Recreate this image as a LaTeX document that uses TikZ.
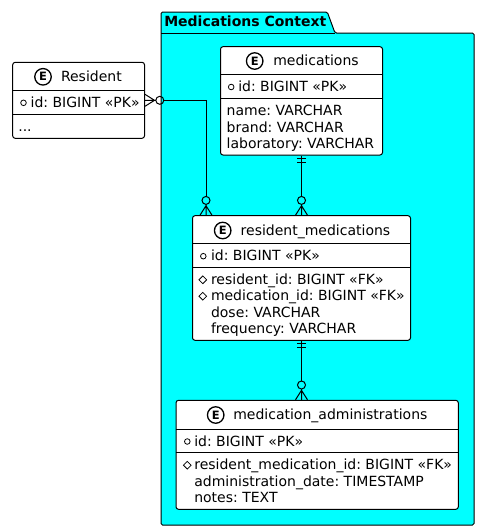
\documentclass[tikz,border=0pt]{standalone}
\usepackage{fontspec}
\setmainfont{DejaVu Sans}
\usetikzlibrary{shapes.geometric}
\definecolor{pkg}{HTML}{00FFFF}
\frenchspacing
\begin{document}
\begin{tikzpicture}[x=1pt,y=-1pt,
  ent/.style={draw=black, fill=white, line width=1pt, rounded corners=2.5pt, inner sep=0pt, rectangle},
  txt/.style={anchor=base west, inner sep=0pt, outer sep=0pt, font=\fontsize{14}{16}\selectfont},
  ecirc/.style={circle, draw=black, fill=white, line width=1.3pt, minimum size=16.5pt, inner sep=0pt, font=\fontsize{11.5}{12}\selectfont\bfseries},
  pkmark/.style={circle, draw=black, line width=0.8pt, minimum size=5.6pt, inner sep=0pt},
  fkmark/.style={diamond, draw=black, line width=0.8pt, minimum size=8pt, inner sep=0pt},
  sep/.style={line width=1pt},
  conn/.style={line width=1pt},
  crowzero/.pic={\draw[line width=1pt] (0,0) -- (10.8,0) (0,6) -- (9.5,0) -- (0,-6);
                 \draw[line width=1pt] (14.8,0) circle[radius=4pt];},
  onlyone/.pic={\draw[line width=1pt] (3,-4.3) -- (3,4.3) (7,-4.3) -- (7,4.3);}
]
\useasboundingbox (0,0) rectangle (480,531);

% package
\draw[fill=pkg, line width=1pt, rounded corners=1.5pt] (161,33) -- (161,12) -- (327.3,12) -- (335,33) -- (474,33) -- (474,525) -- (161,525) -- cycle;
\draw[line width=1pt] (161,33) -- (335,33);
\node[txt, font=\fontsize{14}{16}\selectfont\bfseries] (pkgtitle) at (164.3,26.7) {Medications Context};

% Resident
\node[ent, minimum width=131.8pt, minimum height=76pt] (res) at (78.6,100.3) {};
\draw[sep] (res.west |- 0,90.3) -- (res.east |- 0,90.3);
\draw[sep] (res.west |- 0,114.3) -- (res.east |- 0,114.3);
\node[ecirc] (rese) at (43,76.8) {E};
\node[txt] (rest) at (61,81.6) {Resident};
\node[pkmark] (resm1) at (23.5,102.8) {};
\node[txt] (resa1) at (30.7,107.3) {id: BIGINT «PK»};
\node[txt] (resa2) at (18.3,131.3) {...};

% medications
\node[ent, minimum width=162pt, minimum height=108.3pt] (med) at (301.5,100.85) {};
\draw[sep] (med.west |- 0,74.3) -- (med.east |- 0,74.3);
\draw[sep] (med.west |- 0,98.7) -- (med.east |- 0,98.7);
\node[ecirc] (mede) at (254.7,61) {E};
\node[txt] (medt) at (273.3,65.7) {medications};
\node[pkmark] (medm1) at (231.2,87) {};
\node[txt] (meda1) at (238.3,91.3) {id: BIGINT «PK»};
\node[txt] (meda2) at (226.7,115.7) {name: VARCHAR};
\node[txt] (meda3) at (226.7,132) {brand: VARCHAR};
\node[txt] (meda4) at (226.7,148.3) {laboratory: VARCHAR};

% resident_medications
\node[ent, minimum width=218pt, minimum height=124.6pt] (rm) at (301.5,278) {};
\draw[sep] (rm.west |- 0,243.7) -- (rm.east |- 0,243.7);
\draw[sep] (rm.west |- 0,267.3) -- (rm.east |- 0,267.3);
\node[ecirc] (rme) at (222.7,230.5) {E};
\node[txt] (rmt) at (240.7,235.2) {resident\_medications};
\node[pkmark] (rmm1) at (203.3,256.2) {};
\node[txt] (rma1) at (211,260.7) {id: BIGINT «PK»};
\node[fkmark] (rmm2) at (202.8,279.8) {};
\node[txt] (rma2) at (211,284.3) {resident\_id: BIGINT «FK»};
\node[fkmark] (rmm3) at (202.8,296.2) {};
\node[txt] (rma3) at (211,300.7) {medication\_id: BIGINT «FK»};
\node[txt] (rma4) at (211,317) {dose: VARCHAR};
\node[txt] (rma5) at (211,333.3) {frequency: VARCHAR};

% medication_administrations
\node[ent, minimum width=282.3pt, minimum height=109pt] (ma) at (317.15,454.8) {};
\draw[sep] (ma.west |- 0,429) -- (ma.east |- 0,429);
\draw[sep] (ma.west |- 0,452.7) -- (ma.east |- 0,452.7);
\node[ecirc] (mae) at (215.7,415) {E};
\node[txt] (mat) at (233.3,419.8) {medication\_administrations};
\node[pkmark] (mam1) at (187.3,441.5) {};
\node[txt] (maa1) at (194.3,446) {id: BIGINT «PK»};
\node[fkmark] (mam2) at (187.3,465.2) {};
\node[txt] (maa2) at (194.3,469.7) {resident\_medication\_id: BIGINT «FK»};
\node[txt] (maa3) at (194.3,486) {administration\_date: TIMESTAMP};
\node[txt] (maa4) at (194.3,502.3) {notes: TEXT};

% connectors
\coordinate (rmin) at ([xshift=-95.5pt]rm.north);
\draw[conn, shorten <=18.8pt, shorten >=18.8pt] (res.east) -| (rmin);
\pic at (res.east) {crowzero};
\pic[rotate=90] at (rmin) {crowzero};

\draw[conn, shorten >=18.8pt] (med.south) -- (rm.north);
\pic[rotate=-90] at (med.south) {onlyone};
\pic[rotate=90] at (rm.north) {crowzero};

\coordinate (main) at (rm.south |- ma.north);
\draw[conn, shorten >=18.8pt] (rm.south) -- (main);
\pic[rotate=-90] at (rm.south) {onlyone};
\pic[rotate=90] at (main) {crowzero};
\end{tikzpicture}
\end{document}
